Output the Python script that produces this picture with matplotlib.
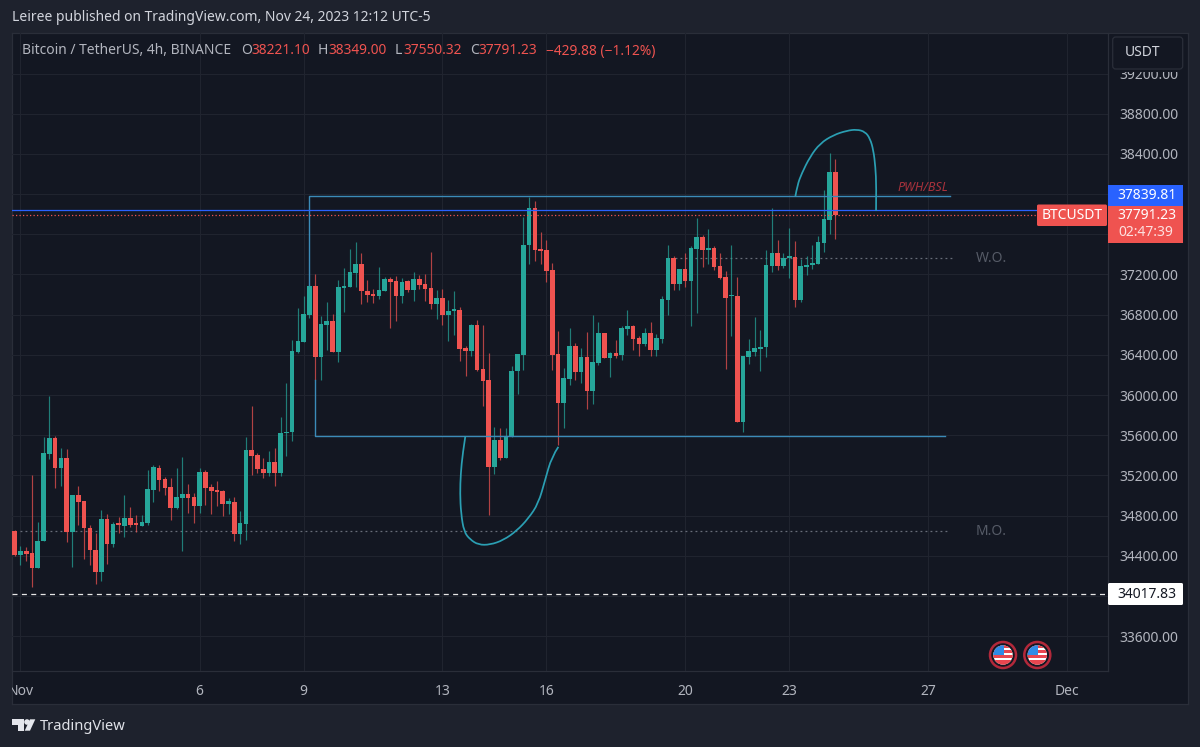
import numpy as np
import matplotlib
matplotlib.use("Agg")
import matplotlib.pyplot as plt
from matplotlib.path import Path
from matplotlib.patches import PathPatch, Rectangle, Circle, FancyBboxPatch, Polygon
from matplotlib.transforms import Bbox

plt.rcParams['font.family'] = ['Noto Sans', 'DejaVu Sans']

opens = [34644,34407,34447,34423,34276,34544,35415,35576,35278,35372,
 34634,35001,34941,34680,34460,34236,34761,34520,34711,34697,
 34771,34711,34694,34721,35055,35278,35165,35085,34874,34978,
 35011,34981,34898,35238,35085,35051,35045,34914,34938,34617,
 34717,35455,35399,35268,35222,35332,35222,35622,35629,36427,
 36530,36798,37087,36377,36699,36739,36430,37070,37073,37216,
 37305,37040,37010,36987,37040,37153,37130,36987,37130,37047,
 37156,37106,37067,36904,36961,36798,36838,36848,36467,36437,
 36692,36261,36152,35287,35552,35377,35579,36235,36400,37491,
 37859,37458,37441,37246,36410,35920,36162,36490,36232,36377,
 36039,36318,36616,36367,36417,36397,36659,36682,36570,36510,
 36617,36451,36561,36949,37368,37109,37251,37135,37457,37573,
 37447,37467,37285,37178,36982,36989,35734,36378,36431,36458,
 36474,37288,37411,37288,37368,37371,36946,37278,37291,37308,
 37517,37739,38221]
closes = [34403,34447,34413,34276,34550,35422,35572,35278,35372,34634,
 35005,34931,34674,34453,34236,34761,34520,34714,34707,34771,
 34701,34708,34731,35061,35282,35155,35075,34874,34988,35011,
 34971,34898,35238,35075,35045,35035,34914,34941,34617,34721,
 35455,35392,35262,35222,35332,35222,35622,35632,36440,36533,
 36808,37087,36377,36705,36739,36430,37073,37080,37226,37305,
 37034,36997,36987,37047,37156,37120,36987,37126,37043,37156,
 37093,37053,36904,36961,36798,36841,36848,36457,36437,36695,
 36251,36142,35287,35552,35370,35585,36238,36410,37494,37859,
 37444,37431,37239,36397,35920,36169,36490,36232,36377,36039,
 36328,36616,36364,36417,36391,36669,36682,36560,36510,36616,
 36451,36567,36956,37364,37109,37251,37135,37467,37573,37444,
 37467,37271,37165,36969,36989,35734,36385,36441,36464,36481,
 37291,37411,37288,37368,37374,36946,37285,37298,37314,37524,
 37749,38224,37791]
highs = [34660,34497,34484,35205,34737,35582,35990,35596,35472,35462,
 35005,35098,34941,34704,34627,34854,34814,34737,34787,35005,
 34888,34804,34801,35255,35305,35305,35188,35172,35278,35382,
 35115,35028,35272,35255,35115,35148,35055,34971,34981,34844,
 35582,35890,35422,35369,35439,35472,35779,36117,36550,36865,
 36987,37100,37206,36782,36921,36808,37146,37262,37458,37527,
 37411,37140,37057,37272,37173,37173,37186,37163,37146,37222,
 37196,37206,37428,37047,37053,36944,37034,36875,36490,36709,
 36742,36699,36417,35681,35675,35668,36285,36410,37776,37975,
 37932,37623,37544,37319,36642,36271,36669,36517,36467,36626,
 36798,36729,36616,36430,36550,36682,36848,36699,36583,36666,
 36727,36609,36982,37497,37387,37251,37414,37487,37759,37597,
 37656,37480,37414,37231,37497,37175,36385,36561,36780,36650,
 37441,37862,37540,37414,37663,37530,37354,37387,37497,37580,
 38038,38410,38349]
lows = [34393,34310,34343,34093,34276,34544,35365,35071,35095,34534,
 34286,34704,34367,34310,34119,34150,34313,34487,34630,34584,
 34687,34640,34694,34704,34938,35048,35005,34754,34861,34447,
 34827,34721,34827,34904,34814,34894,34794,34817,34550,34520,
 34560,35205,35228,35178,35195,35098,35195,35395,35539,36417,
 36523,36765,36152,36145,36444,36430,36331,36828,37073,37073,
 36908,36921,36911,36954,37040,36672,36735,36914,37027,36931,
 37060,36937,36858,36758,36695,36533,36599,36334,36192,36384,
 36238,35894,34803,35214,35357,35377,35579,36010,36251,37305,
 37332,37305,37120,36251,35506,35668,36099,36152,36119,35864,
 35913,36301,36364,36179,36371,36351,36599,36444,36391,36483,
 36385,36385,36518,36800,37042,37042,37072,36684,36816,37275,
 37308,37248,37155,36259,36584,35734,35634,36308,36391,36235,
 36378,37221,37241,37268,37162,36873,36923,37198,37251,37308,
 37424,37600,37550]

price_ticks = [33600,34000,34400,34800,35200,35600,36000,36400,36800,37200,37600,38000,38400,38800,39200]
hidden_ticks = [34000,37600,38000]
date_positions = [1,32,50,74,92,116,134,158,182]
date_labels = ['Nov','6','9','13','16','20','23','27','Dec']

last_price = 37791.23
blue_level = 37839.81
white_level = 34017.83
wo_level = 37361
mo_level = 34642
box_top = 37977
box_bottom = 35591

arc_top_x = [135.06,135.41,136.16,137.60,139.33,141.64,143.94,145.68,147.12,147.98,148.56,148.91,149.08,149.02]
arc_top_y = [37977,38090,38206,38372,38505,38588,38631,38644,38621,38554,38438,38272,38073,37834]
arc_bot_x = [77.97,77.51,77.17,77.05,77.22,77.74,78.78,80.22,82.24,84.55,86.85,88.87,90.60,91.76,92.91,94.06]
arc_bot_y = [35591,35418,35219,35020,34821,34638,34562,34509,34509,34555,34648,34771,34920,35152,35385,35484]

GREEN, RED = '#26a69a', '#ef5350'
PANE, OUTER, GRID, BORDER = '#131722', '#1e222d', '#20242f', '#2a2e39'
TXT, TEAL = '#b2b5be', '#2b9fb3'
W, H = 1200, 747

fig = plt.figure(figsize=(12, 7.47), dpi=100, facecolor=OUTER)

def rect(x0, y0, x1, y1):
    return [x0/W, 1-y1/H, (x1-x0)/W, (y1-y0)/H]

bg = fig.add_axes(rect(12.3, 33, 1187.7, 704), zorder=0)
bg.set_facecolor(PANE); bg.set_xticks([]); bg.set_yticks([])
for s in bg.spines.values():
    s.set_color(BORDER); s.set_linewidth(0.9)

ax = fig.add_axes(rect(12.3, 33, 1108.3, 670.6), zorder=1)
ax.patch.set_alpha(0)
ax.set_xlim(-0.41, 189.2)
ax.set_ylim(33256.5, 39603.7)
for k, s in ax.spines.items():
    s.set_visible(k in ('right', 'bottom'))
    s.set_color(BORDER); s.set_linewidth(0.9)
ax.yaxis.tick_right()
ax.set_yticks(price_ticks)
ax.set_yticklabels(['' if p in hidden_ticks else f'{p:.2f}' for p in price_ticks], color=TXT, fontsize=10)
ax.set_xticks(date_positions)
ax.set_xticklabels(date_labels, color=TXT, fontsize=10, fontweight='medium')
ax.tick_params(axis='both', length=0)
ax.tick_params(axis='y', pad=8)
ax.tick_params(axis='x', pad=9.5)
ax.grid(True, color=GRID, lw=0.8)
ax.set_axisbelow(True)
clip_box = Bbox([[12.3, 0], [1187, 747]])
for lab in ax.get_xticklabels():
    lab.set_clip_on(True); lab.set_clip_box(clip_box)

idx = np.arange(len(opens))
o, h, l, c = map(np.array, (opens, highs, lows, closes))
up = c >= o
cols = np.where(up, GREEN, RED)

ax.plot([1, 161.9], [mo_level]*2, color='#686d79', lw=0.9, ls=(0, (1.5, 2.5)), zorder=2)
ax.plot([114.2, 162.2], [wo_level]*2, color='#686d79', lw=0.9, ls=(0, (1.5, 2.5)), zorder=2)
ax.plot([-0.41, 189.2], [white_level]*2, color='#e6e6e6', lw=0.9, ls=(0, (4, 3.5)), zorder=2)

ax.vlines(idx, l, h, colors=cols, lw=0.85, alpha=0.72, zorder=3)
ax.bar(idx, np.maximum(np.abs(c-o), 14), bottom=np.minimum(o, c), width=0.8,
       color=cols, linewidth=0, zorder=4)

ax.plot([51, 51, 161.8], [37100, box_top, box_top], color='#3b8bb8', lw=1.0, zorder=5)
ax.plot([52, 52, 161], [36150, box_bottom, box_bottom], color='#3b8bb8', lw=1.0, zorder=5)
ax.plot([-0.41, 177.1], [blue_level]*2, color='#2962ff', lw=0.9, zorder=5)
ax.plot([-0.41, 177.1], [last_price]*2, color=RED, lw=0.9, ls=(0, (1, 1.8)), zorder=5)

def smooth(xs, ys):
    pts = np.column_stack([xs, ys])
    mids = (pts[1:-1] + pts[2:]) / 2
    verts = [pts[0]]; codes = [Path.MOVETO]
    for p, m in zip(pts[1:-1], mids):
        verts += [p, m]; codes += [Path.CURVE3, Path.CURVE3]
    verts[-1] = pts[-1]
    return Path(verts, codes)

for xs, ys in ((arc_top_x, arc_top_y), (arc_bot_x, arc_bot_y)):
    ax.add_patch(PathPatch(smooth(xs, ys), fill=False, edgecolor=TEAL, lw=1.25, zorder=6))

ax.text(166.3, wo_level, 'W.O.', color='#565b67', fontsize=10, va='center', ha='left', zorder=6)
ax.text(166.3, mo_level, 'M.O.', color='#565b67', fontsize=10, va='center', ha='left', zorder=6)
ax.text(152.7, 38065, 'PWH/BSL', color='#a8323c', fontsize=9, style='italic', va='center', ha='left', zorder=6)

ov = fig.add_axes([0, 0, 1, 1], zorder=5)
ov.set_xlim(0, W); ov.set_ylim(H, 0); ov.axis('off'); ov.patch.set_alpha(0)

def box(x0, y0, x1, y1, fc, ec='none', pad=1.5):
    ov.add_patch(FancyBboxPatch((x0+pad, y0+pad), x1-x0-2*pad, y1-y0-2*pad,
                                boxstyle=f'round,pad={pad}', fc=fc, ec=ec, lw=0.9))

ov.add_patch(Rectangle((1109.5, 34), 77, 37.5, fc=PANE, ec='none'))
box(1112.7, 37, 1182.7, 69, PANE, BORDER, pad=3)
ov.text(1124.5, 53, 'USDT', color='#d1d4dc', fontsize=10, va='center')

ov.add_patch(Rectangle((1108, 206), 75, 37, fc=RED, ec='none'))
ov.add_patch(Rectangle((1108, 184.5), 75, 21.5, fc='#2962ff', ec='none'))
box(1037, 204.5, 1107, 226, RED)
ov.text(1072, 215.5, 'BTCUSDT', color='white', fontsize=10, fontweight='medium', ha='center', va='center')
ov.text(1147, 195.5, f'{blue_level:.2f}', color='white', fontsize=10, fontweight='medium', ha='center', va='center')
ov.text(1147, 215.5, f'{last_price:.2f}', color='white', fontsize=10, fontweight='medium', ha='center', va='center')
ov.text(1146, 232.5, '02:47:39', color='#fde0df', fontsize=10, ha='center', va='center')
box(1108, 583, 1183, 605, 'white')
ov.text(1147, 594.5, f'{white_level:.2f}', color='#131722', fontsize=10, ha='center', va='center')

for cx in (1003, 1037.3):
    ov.add_patch(Circle((cx, 655), 13, fc='#131722', ec='#b2283a', lw=1.8))
    disc = Circle((cx, 655), 9.7, fc='white', ec='none')
    ov.add_patch(disc)
    for k, yy in enumerate((645, 650, 655, 660)):
        st = Rectangle((cx-10, yy), 20, 3 if k < 3 else 5, fc='#e8464f', ec='none')
        ov.add_patch(st); st.set_clip_path(disc)
    cant = Rectangle((cx-10, 645), 10.5, 10, fc='#2f8be6', ec='none')
    ov.add_patch(cant); cant.set_clip_path(disc)

ov.text(12, 17.5, 'Leiree published on TradingView.com, Nov 24, 2023 12:12 UTC-5',
        color='#d1d4dc', fontsize=10, va='center')
ov.text(21.5, 51, 'Bitcoin / TetherUS, 4h, BINANCE', color=TXT, fontsize=10, va='center')
for lx, letter, vx, val in ((241, 'O', 251, '38221.10'), (318, 'H', 328, '38349.00'),
                            (395, 'L', 403, '37550.32'), (470, 'C', 478.5, '37791.23')):
    ov.text(lx, 51, letter, color=TXT, fontsize=10, va='center')
    ov.text(vx, 51, val, color=RED, fontsize=9.9, va='center')
ov.text(545.5, 51, '\u2212429.88 (\u22121.12%)', color=RED, fontsize=9.9, va='center')

ov.add_patch(Polygon([(12.3, 719.3), (24, 719.3), (24, 730.7), (18.3, 730.7), (18.3, 725), (12.3, 725)], fc='#e4e6ec', ec='none'))
ov.add_patch(Circle((27, 722), 2.8, fc='#e4e6ec', ec='none'))
ov.add_patch(Polygon([(30, 719.3), (35.3, 719.3), (30, 730.7), (24.7, 730.7)], fc='#e4e6ec', ec='none'))
ov.text(40, 726, 'TradingView', color='#dfe1e7', fontsize=10.6, va='center')

fig.savefig('out.png', dpi=100, facecolor=OUTER)
